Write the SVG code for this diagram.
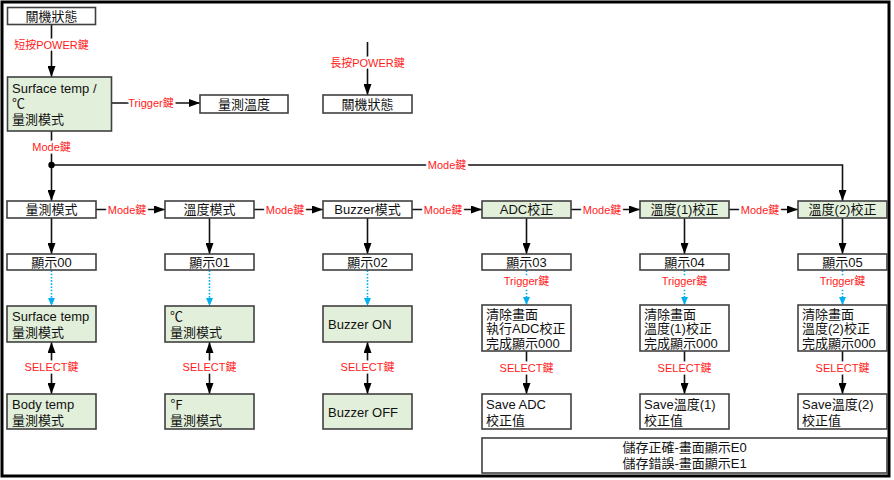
<svg xmlns="http://www.w3.org/2000/svg" width="894" height="480" viewBox="0 0 894 480">
<style>
.bx{fill:#fff;stroke:#404040;stroke-width:1.6}
.gb{fill:#e2efda;stroke:#404040;stroke-width:1.6}
text{font-family:"Liberation Sans","Noto Sans CJK TC",sans-serif;fill:#111}
.t{font-size:13px}
.c{text-anchor:middle}
.lb{font-size:11px;fill:#ff1a1a;text-anchor:middle;paint-order:stroke;stroke:#fff;stroke-width:5px;stroke-linejoin:round}
.ln{fill:none;stroke:#111;stroke-width:1.6}
.bl{fill:none;stroke:#00b0f0;stroke-width:1.6;stroke-dasharray:1.6 1.6}
</style>
<defs>
<marker id="ah" viewBox="0 0 11 8" refX="11" refY="4" markerWidth="11" markerHeight="8" markerUnits="userSpaceOnUse" orient="auto-start-reverse"><path d="M0,0 L11,4 L0,8 z" fill="#000"/></marker>
<marker id="bh" viewBox="0 0 8 7" refX="8" refY="3.5" markerWidth="8" markerHeight="7" markerUnits="userSpaceOnUse" orient="auto"><path d="M0,0 L8,3.5 L0,7 z" fill="#00b0f0"/></marker>
</defs>
<rect x="2" y="2" width="887" height="474" fill="#fff" stroke="#000" stroke-width="3"/>

<g id="connectors">
<path class="ln" d="M51.5,24.5 V77" marker-end="url(#ah)"/>
<path class="ln" d="M111.5,103 H200" marker-end="url(#ah)"/>
<path class="ln" d="M367.5,42 V95" marker-end="url(#ah)"/>
<path class="ln" d="M51.5,131 V201" marker-end="url(#ah)"/>
<path class="ln" d="M51.5,165 H842.5 V201" marker-end="url(#ah)"/>
<circle cx="51.5" cy="165" r="3.2" fill="#000"/>
<path class="ln" d="M96,209.5 H165" marker-end="url(#ah)"/>
<path class="ln" d="M254,209.5 H323" marker-end="url(#ah)"/>
<path class="ln" d="M412,209.5 H482" marker-end="url(#ah)"/>
<path class="ln" d="M571,209.5 H640" marker-end="url(#ah)"/>
<path class="ln" d="M729,209.5 H798" marker-end="url(#ah)"/>
<path class="ln" d="M51.5,218 V254" marker-end="url(#ah)"/>
<path class="ln" d="M209.5,218 V254" marker-end="url(#ah)"/>
<path class="ln" d="M367.5,218 V254" marker-end="url(#ah)"/>
<path class="ln" d="M526.5,218 V254" marker-end="url(#ah)"/>
<path class="ln" d="M684.5,218 V254" marker-end="url(#ah)"/>
<path class="ln" d="M842.5,218 V254" marker-end="url(#ah)"/>
<path class="bl" d="M51.5,270.5 V306" marker-end="url(#bh)"/>
<path class="bl" d="M209.5,270.5 V306" marker-end="url(#bh)"/>
<path class="bl" d="M367.5,270.5 V306" marker-end="url(#bh)"/>
<path class="bl" d="M526.5,270.5 V305" marker-end="url(#bh)"/>
<path class="bl" d="M684.5,270.5 V305" marker-end="url(#bh)"/>
<path class="bl" d="M842.5,270.5 V305" marker-end="url(#bh)"/>
<path class="ln" d="M51.5,342 V394" marker-start="url(#ah)" marker-end="url(#ah)"/>
<path class="ln" d="M209.5,342 V394" marker-start="url(#ah)" marker-end="url(#ah)"/>
<path class="ln" d="M367.5,342 V394" marker-start="url(#ah)" marker-end="url(#ah)"/>
<path class="ln" d="M526.5,351 V394" marker-end="url(#ah)"/>
<path class="ln" d="M684.5,351 V394" marker-end="url(#ah)"/>
<path class="ln" d="M842.5,351 V394" marker-end="url(#ah)"/>
<text class="lb" x="51.5" y="49">短按POWER鍵</text>
<text class="lb" x="151" y="107">Trigger鍵</text>
<text class="lb" x="367.5" y="67">長按POWER鍵</text>
<text class="lb" x="51.5" y="151">Mode鍵</text>
<text class="lb" x="447" y="169">Mode鍵</text>
<text class="lb" x="127" y="213.5">Mode鍵</text>
<text class="lb" x="285" y="213.5">Mode鍵</text>
<text class="lb" x="443" y="213.5">Mode鍵</text>
<text class="lb" x="602" y="213.5">Mode鍵</text>
<text class="lb" x="760" y="213.5">Mode鍵</text>
<text class="lb" x="526.5" y="284.5">Trigger鍵</text>
<text class="lb" x="684.5" y="284.5">Trigger鍵</text>
<text class="lb" x="842.5" y="284.5">Trigger鍵</text>
<text class="lb" x="51.5" y="371">SELECT鍵</text>
<text class="lb" x="209.5" y="371">SELECT鍵</text>
<text class="lb" x="367.5" y="371">SELECT鍵</text>
<text class="lb" x="526.5" y="372">SELECT鍵</text>
<text class="lb" x="684.5" y="372">SELECT鍵</text>
<text class="lb" x="842.5" y="372">SELECT鍵</text>
</g>

<g id="off1"><rect class="bx" x="7.5" y="7.5" width="88" height="17"/><text class="t c" x="51.5" y="20.5">關機狀態</text></g>
<g id="surface"><rect class="gb" x="7.5" y="77" width="104" height="54"/><text class="t" x="12" y="93">Surface temp /</text><text class="t" x="12" y="108">℃</text><text class="t" x="12" y="124">量測模式</text></g>
<g id="measure"><rect class="bx" x="200" y="95" width="88" height="18"/><text class="t c" x="244" y="108.5">量測溫度</text></g>
<g id="off2"><rect class="bx" x="323" y="95" width="89" height="18"/><text class="t c" x="367.5" y="108.5">關機狀態</text></g>

<g id="m1"><rect class="bx" x="7" y="201" width="89" height="17"/><text class="t c" x="51.5" y="214">量測模式</text></g>
<g id="m2"><rect class="bx" x="165" y="201" width="89" height="17"/><text class="t c" x="209.5" y="214">溫度模式</text></g>
<g id="m3"><rect class="bx" x="323" y="201" width="89" height="17"/><text class="t c" x="367.5" y="214">Buzzer模式</text></g>
<g id="m4"><rect class="gb" x="482" y="201" width="89" height="17"/><text class="t c" x="526.5" y="214">ADC校正</text></g>
<g id="m5"><rect class="gb" x="640" y="201" width="89" height="17"/><text class="t c" x="684.5" y="214">溫度(1)校正</text></g>
<g id="m6"><rect class="gb" x="798" y="201" width="89" height="17"/><text class="t c" x="842.5" y="214">溫度(2)校正</text></g>

<g id="d0"><rect class="bx" x="7" y="254" width="89" height="16"/><text class="t c" x="51.5" y="266.5">顯示00</text></g>
<g id="d1"><rect class="bx" x="165" y="254" width="89" height="16"/><text class="t c" x="209.5" y="266.5">顯示01</text></g>
<g id="d2"><rect class="bx" x="323" y="254" width="89" height="16"/><text class="t c" x="367.5" y="266.5">顯示02</text></g>
<g id="d3"><rect class="bx" x="482" y="254" width="89" height="16"/><text class="t c" x="526.5" y="266.5">顯示03</text></g>
<g id="d4"><rect class="bx" x="640" y="254" width="89" height="16"/><text class="t c" x="684.5" y="266.5">顯示04</text></g>
<g id="d5"><rect class="bx" x="798" y="254" width="89" height="16"/><text class="t c" x="842.5" y="266.5">顯示05</text></g>

<g id="s1"><rect class="gb" x="7" y="306" width="89" height="36"/><text class="t" x="12" y="320.5">Surface temp</text><text class="t" x="12" y="337">量測模式</text></g>
<g id="s2"><rect class="gb" x="165" y="306" width="89" height="36"/><text class="t" x="170" y="320.5">℃</text><text class="t" x="170" y="337">量測模式</text></g>
<g id="s3"><rect class="gb" x="323" y="306" width="89" height="36"/><text class="t" x="328" y="328.5">Buzzer ON</text></g>
<g id="b1"><rect class="gb" x="7" y="394" width="89" height="35"/><text class="t" x="12" y="408.5">Body temp</text><text class="t" x="12" y="424.5">量測模式</text></g>
<g id="b2"><rect class="gb" x="165" y="394" width="89" height="35"/><text class="t" x="170" y="408.5">℉</text><text class="t" x="170" y="424.5">量測模式</text></g>
<g id="b3"><rect class="gb" x="323" y="394" width="89" height="35"/><text class="t" x="328" y="416.5">Buzzer OFF</text></g>

<g id="c4"><rect class="bx" x="482" y="305" width="89" height="46"/><text class="t" x="486" y="318.5">清除畫面</text><text class="t" x="486" y="333">執行ADC校正</text><text class="t" x="486" y="347.5">完成顯示000</text></g>
<g id="c5"><rect class="bx" x="640" y="305" width="89" height="46"/><text class="t" x="644" y="318.5">清除畫面</text><text class="t" x="644" y="333">溫度(1)校正</text><text class="t" x="644" y="347.5">完成顯示000</text></g>
<g id="c6"><rect class="bx" x="798" y="305" width="89" height="46"/><text class="t" x="802" y="318.5">清除畫面</text><text class="t" x="802" y="333">溫度(2)校正</text><text class="t" x="802" y="347.5">完成顯示000</text></g>
<g id="v4"><rect class="bx" x="482" y="394" width="89" height="35"/><text class="t" x="486" y="408.5">Save ADC</text><text class="t" x="486" y="424.5">校正值</text></g>
<g id="v5"><rect class="bx" x="640" y="394" width="89" height="35"/><text class="t" x="644" y="408.5">Save溫度(1)</text><text class="t" x="644" y="424.5">校正值</text></g>
<g id="v6"><rect class="bx" x="798" y="394" width="89" height="35"/><text class="t" x="802" y="408.5">Save溫度(2)</text><text class="t" x="802" y="424.5">校正值</text></g>
<g id="result"><rect class="bx" x="482" y="438" width="405" height="35"/><text class="t c" x="684.5" y="451.5">儲存正確-畫面顯示E0</text><text class="t c" x="684.5" y="468">儲存錯誤-畫面顯示E1</text></g>
</svg>
